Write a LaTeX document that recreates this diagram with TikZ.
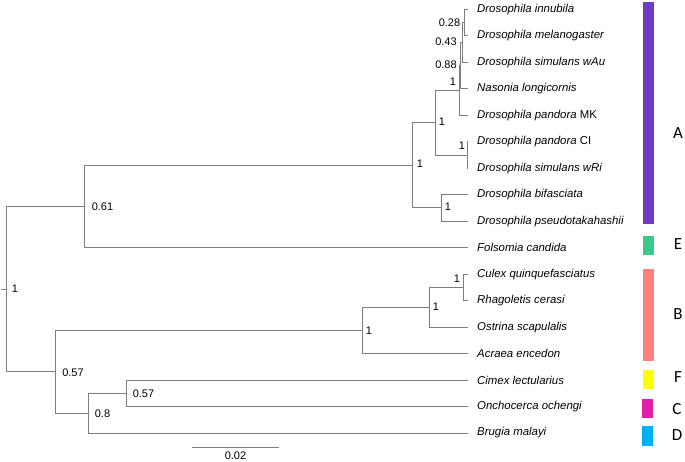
\documentclass[tikz,border=0pt]{standalone}
\usepackage{fontspec}
\setmainfont{Liberation Sans}
\newfontfamily\cladefont{Carlito}
\definecolor{branch}{RGB}{125,125,125}
\definecolor{cA}{RGB}{111,60,200}
\definecolor{cE}{RGB}{60,200,138}
\definecolor{cB}{RGB}{255,127,127}
\definecolor{cF}{RGB}{255,255,0}
\definecolor{cC}{RGB}{224,32,168}
\definecolor{cD}{RGB}{0,176,240}
\begin{document}
\begin{tikzpicture}[x=1pt,y=-1pt,
  br/.style={draw=branch,line width=1pt},
  tip/.style={anchor=west,inner sep=3pt,font=\fontsize{11.4}{13}\selectfont\itshape},
  lab/.style={inner sep=0pt,font=\fontsize{11}{13}\selectfont},
  clade/.style={inner sep=0pt,font=\fontsize{17}{20}\selectfont\cladefont},
  bar/.style={inner sep=0pt,minimum width=11pt}]
\useasboundingbox (0,0) rectangle (685,462);
% tips
\def\tx{468}
\foreach \i/\n in {0/a,1/b,2/c,3/d,4/e,5/f,6/g,7/h,8/i,9/j,10/k,11/l,12/m,13/n,14/o,15/p,16/q}{
  \coordinate (tip\n) at (\tx,{9.5+26.47*\i});
}
\node[tip] (ta) at ([xshift=6]tipa) {Drosophila innubila};
\node[tip] (tb) at ([xshift=6]tipb) {Drosophila melanogaster};
\node[tip] (tc) at ([xshift=6]tipc) {Drosophila simulans wAu};
\node[tip] (td) at ([xshift=6]tipd) {Nasonia longicornis};
\node[tip] (te) at ([xshift=6]tipe) {Drosophila pandora \upshape MK};
\node[tip] (tf) at ([xshift=6]tipf) {Drosophila pandora \upshape CI};
\node[tip] (tg) at ([xshift=6]tipg) {Drosophila simulans wRi};
\node[tip] (th) at ([xshift=6]tiph) {Drosophila bifasciata};
\node[tip] (ti) at ([xshift=6]tipi) {Drosophila pseudotakahashii};
\node[tip] (tj) at ([xshift=6]tipj) {Folsomia candida};
\node[tip] (tk) at ([xshift=6]tipk) {Culex quinquefasciatus};
\node[tip] (tl) at ([xshift=6]tipl) {Rhagoletis cerasi};
\node[tip] (tm) at ([xshift=6]tipm) {Ostrina scapulalis};
\node[tip] (tn) at ([xshift=6]tipn) {Acraea encedon};
\node[tip] (to) at ([xshift=6]tipo) {Cimex lectularius};
\node[tip] (tp) at ([xshift=6]tipp) {Onchocerca ochengi};
\node[tip] (tq) at ([xshift=6]tipq) {Brugia malayi};
% internal nodes
\coordinate (n028) at (464,22.7);
\coordinate (n043) at (462,42.6);
\coordinate (n088) at (460,65.8);
\coordinate (n1a) at (459,90.6);
\coordinate (nCI) at (467,155.1);
\coordinate (n1b) at (435,122.8);
\coordinate (nBif) at (441,208.0);
\coordinate (nA) at (412,165.4);
\coordinate (n061) at (84,206.6);
\coordinate (nCR) at (463,287.4);
\coordinate (nB1) at (429,307.3);
\coordinate (nB) at (362,330.5);
\coordinate (n057b) at (126,393.3);
\coordinate (n08) at (88,413.2);
\coordinate (n057a) at (55,371.8);
\coordinate (root) at (6,289.2);
\coordinate (rootstub) at (1,289.2);
% branches
\draw[br] (n028) |- (tipa); \draw[br] (n028) |- (tipb);
\draw[br] (n043) |- (n028); \draw[br] (n043) |- (tipc);
\draw[br] (n088) |- (n043); \draw[br] (n088) |- (tipd);
\draw[br] (n1a) |- (n088); \draw[br] (n1a) |- (tipe);
\draw[br] (nCI) |- (tipf); \draw[br] (nCI) |- (tipg);
\draw[br] (n1b) |- (n1a); \draw[br] (n1b) |- (nCI);
\draw[br] (nBif) |- (tiph); \draw[br] (nBif) |- (tipi);
\draw[br] (nA) |- (n1b); \draw[br] (nA) |- (nBif);
\draw[br] (n061) |- (nA); \draw[br] (n061) |- (tipj);
\draw[br] (nCR) |- (tipk); \draw[br] (nCR) |- (tipl);
\draw[br] (nB1) |- (nCR); \draw[br] (nB1) |- (tipm);
\draw[br] (nB) |- (nB1); \draw[br] (nB) |- (tipn);
\draw[br] (n057b) |- (tipo); \draw[br] (n057b) |- (tipp);
\draw[br] (n08) |- (n057b); \draw[br] (n08) |- (tipq);
\draw[br] (n057a) |- (nB); \draw[br] (n057a) |- (n08);
\draw[br] (root) |- (n061); \draw[br] (root) |- (n057a);
\draw[br] (rootstub) -- (root);
% node labels
\node[lab] (l028) at (449.5,23) {0.28};
\node[lab] (l043) at (446,42) {0.43};
\node[lab] (l088) at (446,65) {0.88};
\node[lab] (l1a) at (453,82) {1};
\node[lab] (l1b) at (442,122) {1};
\node[lab] (lCI) at (462,146) {1};
\node[lab] (lA) at (420,164) {1};
\node[lab] (lBif) at (448,207) {1};
\node[lab] (l061) at (102.5,206.5) {0.61};
\node[lab] (lroot) at (15,289) {1};
\node[lab] (lCR) at (457,279) {1};
\node[lab] (lB1) at (436,307) {1};
\node[lab] (lB) at (369,331) {1};
\node[lab] (l057a) at (73,372.5) {0.57};
\node[lab] (l08) at (102.5,413.5) {0.8};
\node[lab] (l057b) at (143.5,393.5) {0.57};
% scale bar
\coordinate (sb1) at (192,447.5);
\coordinate (sb2) at (279,447.5);
\draw[br] (sb1) -- (sb2);
\node[lab] (sbl) at (235.5,455.5) {0.02};
% clade bars
\fill[cA] (643,2) rectangle (654,224);
\fill[cE] (643,236) rectangle (654,255);
\fill[cB] (643,269) rectangle (654,361);
\fill[cF] (643,370) rectangle (654,389);
\fill[cC] (642,399) rectangle (653,418);
\fill[cD] (642,426) rectangle (653,446);
\node[clade] (kA) at (678,133) {A};
\node[clade] (kE) at (678,244) {E};
\node[clade] (kB) at (678,314) {B};
\node[clade] (kF) at (678,377) {F};
\node[clade] (kC) at (677,409) {C};
\node[clade] (kD) at (677,435) {D};
\end{tikzpicture}
\end{document}
